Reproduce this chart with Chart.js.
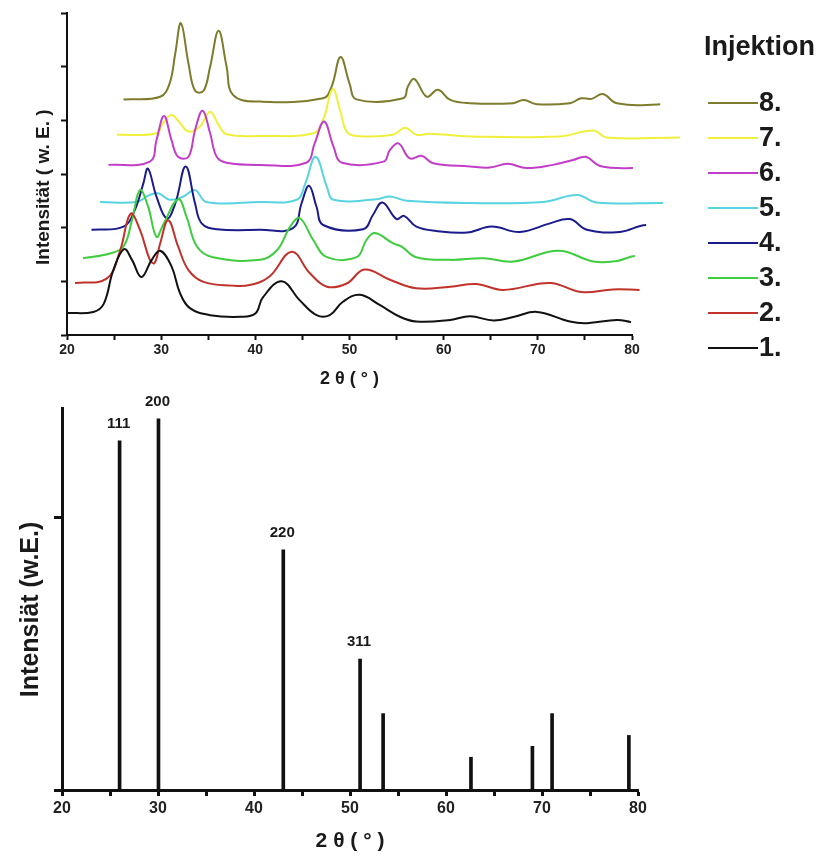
<!DOCTYPE html>
<html>
<head>
<meta charset="utf-8">
<script src="https://cdn.jsdelivr.net/npm/chart.js@4.4.0/dist/chart.umd.min.js"></script>
<style>
  html, body { margin: 0; padding: 0; background: #fff; }
  #top { position: absolute; left: 0; top: 0; width: 822px; height: 395px; }
  #bottom { position: absolute; left: 0; top: 395px; width: 822px; height: 472px; }
</style>
</head>
<body>
<div id="top"><canvas id="xrdChart"></canvas></div>
<div id="bottom"><canvas id="refChart"></canvas></div>
<script>
//measured patterns, [2theta, intensity] (intensity offset per injection)
const inj_1 = [[20,2.05],[22.8,2.15],[23.9,2.9],[24.9,6.0],[26.05,8.0],[26.9,7.0],[27.9,5.4],[29,7.0],[29.9,7.85],[31.1,6.4],[32,3.9],[33.05,2.5],[35.2,1.85],[38.4,1.7],[40,2.0],[40.8,3.5],[42.8,5.0],[44.7,3.25],[46.5,1.85],[47.9,1.85],[49.3,3.1],[51.1,3.75],[53.2,2.8],[55.35,1.7],[57.1,1.25],[60.7,1.4],[62.8,1.75],[65.3,1.35],[67.5,1.7],[69.9,2.15],[73.4,1.25],[75.2,1.1],[78.4,1.4],[79.9,1.2]];
const inj_2 = [[20.85,4.85],[24.2,5.25],[25.6,7.75],[26.75,11.3],[27.75,9.8],[28.8,7.0],[29.3,6.7],[29.9,8.55],[30.75,10.7],[31.8,8.25],[32.9,6.05],[34.5,4.95],[37.5,4.6],[39.4,4.65],[41.5,5.45],[43.85,7.75],[45.8,5.75],[47.6,4.5],[49.7,4.8],[51.6,6.1],[54.3,5.15],[57.1,4.35],[60.7,4.5],[63.5,4.75],[66.3,4.2],[71.3,4.85],[74.6,4.0],[78,4.25],[80.8,4.2]];
const inj_3 = [[21.7,7.15],[24.55,7.6],[26,8.25],[26.9,10.7],[27.75,13.5],[28.6,12],[29.5,9.15],[30.2,10.25],[31.8,12.65],[32.7,11],[33.8,8.25],[35.5,7.25],[40.5,7.0],[42.3,7.9],[43.7,10.1],[44.7,10.9],[46.15,8.85],[47.6,7.25],[50.75,7.25],[51.8,8.85],[52.7,9.5],[54.6,8.55],[55.5,8.25],[57.1,7.25],[60.7,7.0],[64.2,7.15],[67.4,6.85],[72.2,7.85],[75.9,6.85],[78.4,6.9],[80.3,7.35],[81.7,7.05]];
const inj_4 = [[22.6,9.8],[26,10.1],[27.2,11.65],[28.1,14.1],[28.6,15.5],[29.5,12.9],[30.6,10.85],[31.5,12.25],[32.6,15.7],[33.6,12.25],[34.3,10.4],[35.9,9.85],[40.5,9.8],[44,9.95],[44.9,12.25],[45.7,13.9],[46.5,11.95],[47.2,10.25],[51.45,9.85],[52.5,11.2],[53.5,12.35],[55,10.8],[55.8,11.1],[57.1,10.1],[59.2,9.7],[62.5,9.55],[65.1,10.1],[68.1,9.6],[71.3,10.4],[73.4,10.8],[75.2,9.8],[78.7,9.6],[81.5,10.25],[82.6,9.8]];
const inj_5 = [[23.5,12.4],[27.4,12.4],[28.8,13.05],[29.7,13.2],[30.9,12.6],[32.35,12.9],[33.6,13.5],[34.8,12.4],[40.5,12.4],[44.4,12.6],[45.3,14.1],[46.4,16.6],[47.6,13.8],[48.3,12.6],[52.9,12.65],[54.3,12.9],[56.1,12.5],[62.8,12.3],[70.6,12.4],[74.2,13.05],[76.2,12.35],[83.3,12.3]];
const inj_6 = [[24.4,15.85],[28.8,16.15],[29.5,18.15],[30.3,20.4],[31.1,18.15],[31.8,16.6],[32.9,16.6],[33.6,19.1],[34.4,20.9],[35.2,18.8],[35.9,16.6],[36.95,16.05],[40.5,15.85],[45.4,16.05],[46.3,17.85],[47.3,19.9],[48.3,17.55],[49.2,16.05],[53.6,16.15],[54.3,17.25],[55.2,17.85],[56.4,16.45],[57.65,16.7],[58.9,16.0],[62.8,15.7],[64.9,15.6],[66.8,15.95],[68.8,15.55],[71.6,15.85],[73.75,16.3],[75.1,16.6],[76.6,15.75],[80.1,15.55],[81.9,15.75],[83.05,16.2],[84.2,15.75]];
const inj_7 = [[25.3,18.65],[29.5,18.8],[30.2,19.75],[31.1,20.5],[32,19.75],[32.9,18.95],[34.1,19.4],[35.2,20.8],[36.1,19.55],[36.95,18.7],[40.5,18.55],[46.15,18.8],[47.2,20.05],[48.2,22.9],[49,20.95],[49.7,18.95],[50.75,18.55],[54.6,18.65],[55.9,19.3],[57.1,18.65],[58.5,18.75],[62.8,18.5],[72.3,18.5],[75.9,19.05],[77.3,18.4],[85.1,18.4]];
const inj_8 = [[26,21.95],[29.9,22.2],[30.9,23.45],[31.5,26.25],[32.1,29.05],[32.9,25.3],[33.6,22.75],[34.5,22.75],[35.2,25],[36.1,28.35],[36.95,25],[37.65,22.35],[40.5,21.75],[47.2,22.05],[48.1,23.15],[49.05,25.9],[50,23.45],[50.75,21.95],[55.7,22.05],[56.2,23.15],[56.9,23.85],[58.2,22.2],[59.4,22.85],[60.7,21.9],[62.8,21.6],[67.4,21.6],[68.5,21.9],[69.9,21.5],[73.4,21.6],[74.6,22.05],[75.7,22.0],[76.9,22.45],[78.4,21.6],[83,21.5],[84.9,21.95],[86.1,21.6]];

const injection_labels = ['1.', '2.', '3.', '4.', '5.', '6.', '7.', '8.'];
const injection_colors = ['#111111', '#c0332b', '#3fcc3f', '#1b1b8c', '#58d4e0', '#c23ec8', '#f0f03c', '#7c7c2c'];
const legend_title = 'Injektion';

//reference pattern
const ref_theta = [26.0, 30.05, 43.05, 51.05, 53.45, 62.6, 69.0, 71.05, 79.05];
const ref_intensity = [128, 136, 88, 48, 28, 12, 16, 28, 20];
const ref_hkl = ['111', '200', '220', '311', '', '', '', '', ''];

const font_family = "'Liberation Sans', Arial, sans-serif";
Chart.defaults.font.family = font_family;
Chart.defaults.font.weight = 'bold';
Chart.defaults.color = '#1a1a1a';

const injektionLegend = {
    id: 'injektionLegend',
    afterDraw(chart) {
        const ctx = chart.ctx;
        ctx.save();
        ctx.fillStyle = '#1a1a1a';
        ctx.textBaseline = 'middle';
        ctx.font = 'bold 27px ' + font_family;
        ctx.fillText(legend_title, 704, 48);
        ctx.font = 'bold 27px ' + font_family;
        const ds = chart.data.datasets;
        for (let i = ds.length - 1, row = 0; i >= 0; i--, row++) {
            const y = 103 + row * 35;
            ctx.strokeStyle = ds[i].borderColor;
            ctx.lineWidth = 2;
            ctx.beginPath();
            ctx.moveTo(708, y);
            ctx.lineTo(758, y);
            ctx.stroke();
            ctx.fillText(ds[i].label, 759, y + 1);
        }
        ctx.restore();
    }
};

const hklLabels = {
    id: 'hklLabels',
    afterDatasetsDraw(chart) {
        const {ctx, scales: {x, y}} = chart;
        ctx.save();
        ctx.font = 'bold 15px ' + font_family;
        ctx.fillStyle = '#1a1a1a';
        ctx.textAlign = 'center';
        ctx.textBaseline = 'middle';
        ref_hkl.forEach((lbl, i) => {
            if (!lbl) return;
            ctx.fillText(lbl, x.getPixelForValue(ref_theta[i]) - 1, y.getPixelForValue(ref_intensity[i]) - 17);
        });
        ctx.restore();
    }
};

//top chart: 8 injections
const injections = [inj_1, inj_2, inj_3, inj_4, inj_5, inj_6, inj_7, inj_8];

new Chart(document.getElementById('xrdChart'), {
    type: 'line',
    data: {
        datasets: injections.map((pts, i) => ({
            label: injection_labels[i],
            data: pts.map(p => ({x: p[0], y: p[1]})),
            borderColor: injection_colors[i],
            borderWidth: 2,
            pointRadius: 0,
            tension: 0.4,
            clip: false
        }))
    },
    options: {
        responsive: true,
        maintainAspectRatio: false,
        animation: false,
        layout: { padding: { top: 13, right: 190, left: 0, bottom: 0 } },
        plugins: { legend: { display: false }, tooltip: { enabled: false } },
        scales: {
            x: {
                type: 'linear', min: 20, max: 80,
                border: { color: '#111', width: 2 },
                grid: { drawOnChartArea: false, tickLength: 5, tickWidth: 2, tickColor: '#111' },
                ticks: {
                    stepSize: 5, padding: 2, autoSkip: false, maxRotation: 0,
                    font: { size: 14, weight: 'bold' }, color: '#222',
                    callback: v => v % 10 === 0 ? v : ''
                },
                title: { display: true, text: '2 θ ( ° )', font: { size: 18, weight: 'bold' }, padding: { top: 0, bottom: 5 } },
                afterFit: s => { s.height = 60; }
            },
            y: {
                min: 0, max: 30,
                border: { color: '#111', width: 2 },
                grid: { drawOnChartArea: false, tickLength: 6, tickWidth: 2, tickColor: '#111' },
                ticks: { stepSize: 5, callback: () => '' },
                // trailing spaces push the centred text down a little, as in the original
                title: { display: true, text: 'Intensität ( w. E. )     ', font: { size: 19, weight: 'bold' }, padding: { top: 32, bottom: 0 } },
                afterFit: s => { s.width = 67; }
            }
        }
    },
    plugins: [injektionLegend]
});

//bottom chart: reference lines
new Chart(document.getElementById('refChart'), {
    type: 'bar',
    data: {
        datasets: [{
            data: ref_theta.map((t, i) => ({x: t, y: ref_intensity[i]})),
            backgroundColor: '#111',
            barThickness: 3
        }]
    },
    options: {
        responsive: true,
        maintainAspectRatio: false,
        animation: false,
        layout: { padding: { top: 13, right: 184, left: 0, bottom: 0 } },
        plugins: { legend: { display: false }, tooltip: { enabled: false } },
        scales: {
            x: {
                type: 'linear', min: 20, max: 80, offset: false,
                border: { color: '#111', width: 3 },
                grid: { offset: false, drawOnChartArea: false, tickLength: 6, tickWidth: 3, tickColor: '#111' },
                ticks: {
                    stepSize: 5, padding: 3, autoSkip: false, maxRotation: 0,
                    font: { size: 16, weight: 'bold' }, color: '#222',
                    callback: v => v % 10 === 0 ? v : ''
                },
                title: { display: true, text: '2 θ ( ° )', font: { size: 21, weight: 'bold' }, padding: { top: 0, bottom: 13 } },
                afterFit: s => { s.height = 77; }
            },
            y: {
                min: 0, max: 140,
                border: { color: '#111', width: 3 },
                grid: { drawOnChartArea: false, tickLength: 8, tickWidth: 3, tickColor: '#111' },
                ticks: { stepSize: 100, includeBounds: false, callback: () => '' },
                title: { display: true, text: 'Intensiät (w.E.)   ', font: { size: 25, weight: 'bold' }, padding: { top: 16, bottom: 0 } },
                afterFit: s => { s.width = 62; }
            }
        }
    },
    plugins: [hklLabels]
});
</script>
</body>
</html>
